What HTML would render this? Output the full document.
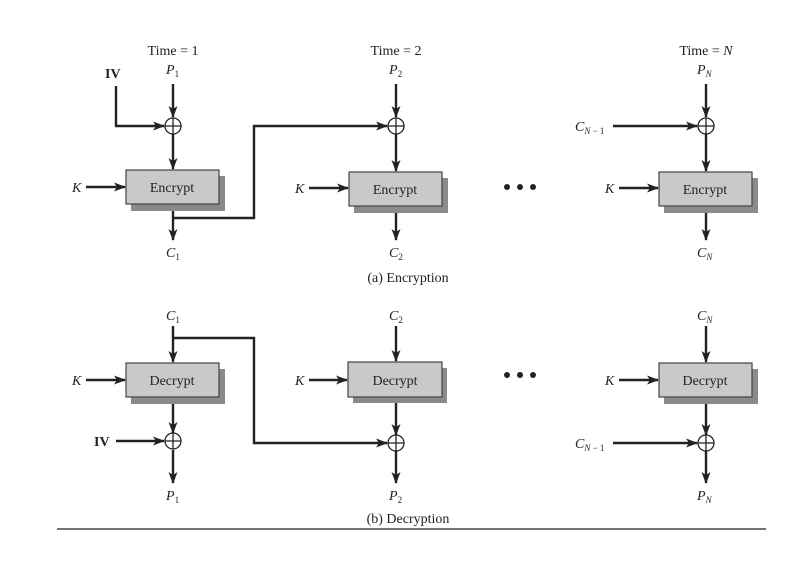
<!DOCTYPE html>
<html><head><meta charset="utf-8"><style>
html,body{margin:0;padding:0;background:#fff;}
svg text{font-family:"Liberation Serif",serif;fill:#222;}
.i{font-style:italic;}
</style></head><body>
<svg width="802" height="563" viewBox="0 0 802 563" xmlns="http://www.w3.org/2000/svg">
<defs>
<marker id="a" markerWidth="12" markerHeight="9" refX="11" refY="4.5" orient="auto" markerUnits="userSpaceOnUse">
<path d="M0,0 L12,4.5 L0,9 L3,4.5 Z" fill="#222"/></marker>
</defs>
<g stroke="#222" stroke-width="2.4" fill="none">
<line x1="173" y1="84" x2="173" y2="117" marker-end="url(#a)"/>
<polyline points="116,86 116,126 164,126" marker-end="url(#a)"/>
<line x1="173" y1="134" x2="173" y2="169" marker-end="url(#a)"/>
<line x1="86" y1="187" x2="125" y2="187" marker-end="url(#a)"/>
<line x1="173" y1="205" x2="173" y2="240" marker-end="url(#a)"/>
<polyline points="173,218 254,218 254,126 387,126" marker-end="url(#a)"/>
<line x1="396" y1="84" x2="396" y2="117" marker-end="url(#a)"/>
<line x1="396" y1="134" x2="396" y2="171" marker-end="url(#a)"/>
<line x1="309" y1="188" x2="348" y2="188" marker-end="url(#a)"/>
<line x1="396" y1="206" x2="396" y2="240" marker-end="url(#a)"/>
<line x1="706" y1="84" x2="706" y2="117" marker-end="url(#a)"/>
<line x1="613" y1="126" x2="697" y2="126" marker-end="url(#a)"/>
<line x1="706" y1="134" x2="706" y2="171" marker-end="url(#a)"/>
<line x1="619" y1="188" x2="658" y2="188" marker-end="url(#a)"/>
<line x1="706" y1="206" x2="706" y2="240" marker-end="url(#a)"/>
<line x1="173" y1="326" x2="173" y2="362" marker-end="url(#a)"/>
<polyline points="173,338 254,338 254,443 387,443" marker-end="url(#a)"/>
<line x1="86" y1="380" x2="125" y2="380" marker-end="url(#a)"/>
<line x1="173" y1="398" x2="173" y2="433" marker-end="url(#a)"/>
<line x1="116" y1="441" x2="164" y2="441" marker-end="url(#a)"/>
<line x1="173" y1="450" x2="173" y2="483" marker-end="url(#a)"/>
<line x1="396" y1="326" x2="396" y2="361" marker-end="url(#a)"/>
<line x1="309" y1="380" x2="347" y2="380" marker-end="url(#a)"/>
<line x1="396" y1="398" x2="396" y2="435" marker-end="url(#a)"/>
<line x1="396" y1="451" x2="396" y2="483" marker-end="url(#a)"/>
<line x1="706" y1="326" x2="706" y2="362" marker-end="url(#a)"/>
<line x1="619" y1="380" x2="658" y2="380" marker-end="url(#a)"/>
<line x1="706" y1="398" x2="706" y2="435" marker-end="url(#a)"/>
<line x1="613" y1="443" x2="697" y2="443" marker-end="url(#a)"/>
<line x1="706" y1="451" x2="706" y2="483" marker-end="url(#a)"/>
</g>
<g>
<rect x="131" y="176" width="94" height="35" fill="#8a8a8a"/>
<rect x="126" y="170" width="93" height="34" fill="#c8c9cb" stroke="#444" stroke-width="1.2"/>
<rect x="354" y="178" width="94" height="35" fill="#8a8a8a"/>
<rect x="349" y="172" width="93" height="34" fill="#c8c9cb" stroke="#444" stroke-width="1.2"/>
<rect x="664" y="178" width="94" height="35" fill="#8a8a8a"/>
<rect x="659" y="172" width="93" height="34" fill="#c8c9cb" stroke="#444" stroke-width="1.2"/>
<rect x="131" y="369" width="94" height="35" fill="#8a8a8a"/>
<rect x="126" y="363" width="93" height="34" fill="#c8c9cb" stroke="#444" stroke-width="1.2"/>
<rect x="353" y="368" width="94" height="35" fill="#8a8a8a"/>
<rect x="348" y="362" width="94" height="35" fill="#c8c9cb" stroke="#444" stroke-width="1.2"/>
<rect x="664" y="369" width="94" height="35" fill="#8a8a8a"/>
<rect x="659" y="363" width="93" height="34" fill="#c8c9cb" stroke="#444" stroke-width="1.2"/>
</g>
<g fill="#fff" stroke="#222" stroke-width="1.3">
<circle cx="173" cy="126" r="8"/><path d="M165,126H181M173,118V134"/>
<circle cx="396" cy="126" r="8"/><path d="M388,126H404M396,118V134"/>
<circle cx="706" cy="126" r="8"/><path d="M698,126H714M706,118V134"/>
<circle cx="173" cy="441" r="8"/><path d="M165,441H181M173,433V449"/>
<circle cx="396" cy="443" r="8"/><path d="M388,443H404M396,435V451"/>
<circle cx="706" cy="443" r="8"/><path d="M698,443H714M706,435V451"/>
</g>
<g fill="#222"><circle cx="507" cy="187" r="3"/><circle cx="520" cy="187" r="3"/><circle cx="533" cy="187" r="3"/>
<circle cx="507" cy="375" r="3"/><circle cx="520" cy="375" r="3"/><circle cx="533" cy="375" r="3"/></g>
<line x1="57" y1="529" x2="766" y2="529" stroke="#222" stroke-width="1.3"/>
<g font-size="14">
<text x="173" y="55" text-anchor="middle">Time = 1</text>
<text x="396" y="55" text-anchor="middle">Time = 2</text>
<text x="706" y="55" text-anchor="middle">Time = <tspan class="i">N</tspan></text>
<text x="105" y="78" font-weight="bold">IV</text>
<text x="166" y="74" class="i">P<tspan font-size="9" dy="3" font-style="normal">1</tspan></text>
<text x="389" y="74" class="i">P<tspan font-size="9" dy="3" font-style="normal">2</tspan></text>
<text x="697" y="74" class="i">P<tspan font-size="9" dy="3">N</tspan></text>
<text x="575" y="131" class="i">C<tspan font-size="9" dy="3">N</tspan><tspan font-size="9" font-style="normal"> − 1</tspan></text>
<text x="72" y="192" class="i">K</text>
<text x="295" y="193" class="i">K</text>
<text x="605" y="193" class="i">K</text>
<text x="172" y="192" text-anchor="middle">Encrypt</text>
<text x="395" y="194" text-anchor="middle">Encrypt</text>
<text x="705" y="194" text-anchor="middle">Encrypt</text>
<text x="166" y="257" class="i">C<tspan font-size="9" dy="3" font-style="normal">1</tspan></text>
<text x="389" y="257" class="i">C<tspan font-size="9" dy="3" font-style="normal">2</tspan></text>
<text x="697" y="257" class="i">C<tspan font-size="9" dy="3">N</tspan></text>
<text x="408" y="282" text-anchor="middle">(a) Encryption</text>
<text x="166" y="320" class="i">C<tspan font-size="9" dy="3" font-style="normal">1</tspan></text>
<text x="389" y="320" class="i">C<tspan font-size="9" dy="3" font-style="normal">2</tspan></text>
<text x="697" y="320" class="i">C<tspan font-size="9" dy="3">N</tspan></text>
<text x="72" y="385" class="i">K</text>
<text x="295" y="385" class="i">K</text>
<text x="605" y="385" class="i">K</text>
<text x="172" y="385" text-anchor="middle">Decrypt</text>
<text x="395" y="385" text-anchor="middle">Decrypt</text>
<text x="705" y="385" text-anchor="middle">Decrypt</text>
<text x="94" y="446" font-weight="bold">IV</text>
<text x="575" y="448" class="i">C<tspan font-size="9" dy="3">N</tspan><tspan font-size="9" font-style="normal"> − 1</tspan></text>
<text x="166" y="500" class="i">P<tspan font-size="9" dy="3" font-style="normal">1</tspan></text>
<text x="389" y="500" class="i">P<tspan font-size="9" dy="3" font-style="normal">2</tspan></text>
<text x="697" y="500" class="i">P<tspan font-size="9" dy="3">N</tspan></text>
<text x="408" y="523" text-anchor="middle">(b) Decryption</text>
</g>
</svg>
</body></html>
